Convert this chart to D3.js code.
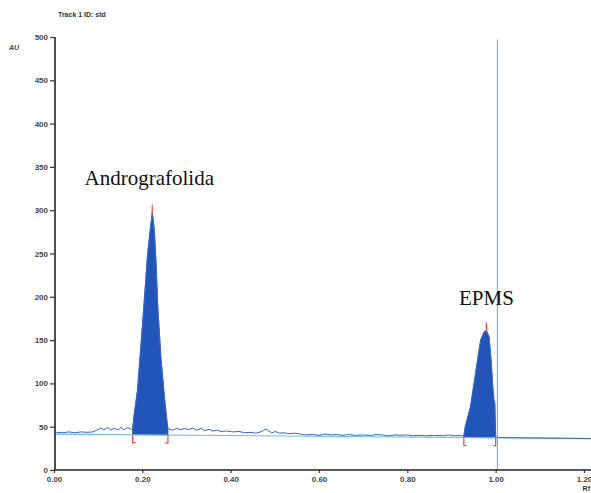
<!DOCTYPE html>
<html>
<head>
<meta charset="utf-8">
<script src="https://cdn.jsdelivr.net/npm/d3@7"></script>
<style>
  html, body { margin: 0; padding: 0; background: #fff; }
  svg { display: block; }
</style>
</head>
<body>
<svg id="chart" width="591" height="493"></svg>
<script>
// ---- Data ----
const title = "Track 1  ID: std";
const yUnit = "AU";
const xUnit = "Rf";
const yTicks = [0, 50, 100, 150, 200, 250, 300, 350, 400, 450, 500];
const xTicks = [0.00, 0.20, 0.40, 0.60, 0.80, 1.00, 1.20];

// Signal trace: Rf positions and absorbance (AU)
const signalRf = [
  0.005, 0.020, 0.034, 0.048, 0.061, 0.075, 0.088, 0.097, 0.106, 0.113, 0.122, 0.129, 0.136, 0.145, 0.152, 0.158, 0.167, 0.174,
  0.178, 0.181, 0.189, 0.197, 0.205, 0.212, 0.218, 0.2225, 0.227, 0.231, 0.235, 0.242, 0.250, 0.255, 0.258,
  0.260, 0.269, 0.278, 0.287, 0.296, 0.305, 0.314, 0.323, 0.333, 0.342, 0.351, 0.360, 0.369, 0.378, 0.391, 0.405, 0.419, 0.432,
  0.446, 0.457, 0.468, 0.475, 0.480, 0.486, 0.493, 0.502, 0.509, 0.518, 0.532, 0.545, 0.559, 0.570, 0.586, 0.600, 0.615, 0.627,
  0.640, 0.654, 0.667, 0.683, 0.699, 0.717, 0.731, 0.744, 0.758, 0.771, 0.785, 0.799, 0.812, 0.826, 0.844, 0.862, 0.880, 0.894,
  0.910, 0.921,
  0.928, 0.931, 0.943, 0.951, 0.959, 0.966, 0.974, 0.979, 0.985, 0.989, 0.993, 0.996, 0.998, 1.000,
  1.010, 1.220
];
const signalAu = [
  43.5, 43, 44, 43, 44, 43.5, 44, 46, 48.5, 46.5, 49, 46, 48.5, 46, 49.5, 46.5, 49, 47,
  47, 62, 92, 145, 200, 250, 278, 297, 278, 240, 188, 130, 84, 60, 47,
  47.5, 46, 48, 46.5, 48, 46.5, 48.5, 46, 48, 45.5, 47, 45, 46, 44.5, 45, 44, 44.5, 43,
  43.5, 42.5, 44, 46, 47.5, 45, 43, 44.5, 42.5, 43, 42, 42.5, 41.5, 40.5, 41, 40, 41.5, 40.5,
  41, 40, 41, 40, 40.5, 40, 41, 40.5, 39.5, 40.5, 40, 40.5, 39.5, 40, 39.5, 40, 39.5, 40.5,
  39.5, 40,
  39, 50, 73, 100, 127, 150, 159.6, 161, 154, 131, 100, 81, 77, 38,
  37.5, 36.3
];

// Baseline (linear, Rf -> AU)
const baselineRf = [0.0, 1.22];
const baselineAu = [41.5, 36.3];

// Integrated peaks
const peakNames = ["Andrografolida", "EPMS"];
const peakStart = [0.178, 0.928];
const peakEnd = [0.258, 1.000];
const peakApexRf = [0.2225, 0.979];
const peakApexAu = [297, 161];

// Solvent front marker
const frontRf = 1.004;
const frontTopAu = 497;

// ---- Chart ----
const svg = d3.select("#chart");
const x = d3.scaleLinear().domain([0, 1.2]).range([54, 584]);
const y = d3.scaleLinear().domain([0, 500]).range([470, 37]);
const baseScale = d3.scaleLinear().domain(baselineRf).range(baselineAu);

const pts = signalRf.map((r, i) => ({ r, a: signalAu[i] }));

// peak fills
peakNames.forEach((name, k) => {
  const seg = pts.filter(p => p.r >= peakStart[k] - 1e-9 && p.r <= peakEnd[k] + 1e-9);
  const area = d3.area()
    .x(p => x(p.r))
    .y0(p => y(baseScale(p.r)))
    .y1(p => y(p.a));
  svg.append("path").datum(seg)
    .attr("d", area)
    .attr("fill", "#2255b8")
    .attr("stroke", "#2255b8")
    .attr("stroke-width", 0.8)
    .attr("stroke-linejoin", "miter");
});

// baseline
svg.append("line")
  .attr("x1", x(0)).attr("x2", 591)
  .attr("y1", y(baseScale(0))).attr("y2", y(baseScale(x.invert(591))))
  .attr("stroke", "#6cc0dc").attr("stroke-width", 1.2);

// signal trace
const line = d3.line().x(p => x(p.r)).y(p => y(p.a));
svg.append("path").datum(pts)
  .attr("d", line)
  .attr("fill", "none")
  .attr("stroke", "#3a66c8")
  .attr("stroke-width", 1);

// solvent front
svg.append("line")
  .attr("x1", x(frontRf)).attr("x2", x(frontRf))
  .attr("y1", y(frontTopAu)).attr("y2", y(0))
  .attr("stroke", "#62bcdc").attr("stroke-width", 1.2);

// red markers: apex ticks and integration brackets
peakNames.forEach((name, k) => {
  svg.append("line")
    .attr("x1", x(peakApexRf[k])).attr("x2", x(peakApexRf[k]))
    .attr("y1", y(peakApexAu[k]) + 2).attr("y2", y(peakApexAu[k]) - 8)
    .attr("stroke", "#e04848").attr("stroke-width", 1.2);
  [[peakStart[k], 1], [peakEnd[k], -1]].forEach(([r, dir]) => {
    const bx = x(r), by = y(baseScale(r));
    svg.append("path")
      .attr("d", `M${bx},${by} L${bx},${by + 8} L${bx + dir * 3},${by + 8}`)
      .attr("fill", "none")
      .attr("stroke", "#e04848").attr("stroke-width", 1.2);
  });
});

// peak labels
const labelDy = [20, 18];
peakNames.forEach((name, k) => {
  svg.append("text")
    .attr("x", x(peakApexRf[k]) - 3 + (k === 1 ? 3 : 0))
    .attr("y", y(peakApexAu[k]) - 8 - labelDy[k])
    .attr("text-anchor", "middle")
    .attr("font-family", "'Liberation Serif', 'Times New Roman', serif")
    .attr("font-size", 21)
    .attr("fill", "#111")
    .text(name);
});

// axes
const fontTick = "'Liberation Sans', Arial, sans-serif";
const yAxis = svg.append("g").attr("transform", `translate(${x(0) + 1},0)`)
  .call(d3.axisLeft(y).tickValues(yTicks).tickSize(5).tickFormat(d3.format("d")));
yAxis.select(".domain").attr("stroke", "#222").attr("stroke-width", 1.6)
  .attr("d", `M0,${y(500)}H0V${y(0)}`);
yAxis.selectAll(".tick line").attr("stroke", "#333").attr("stroke-width", 1.2);
yAxis.selectAll(".tick text")
  .attr("font-family", fontTick).attr("font-size", 8).attr("font-weight", "bold")
  .attr("fill", "#444").attr("x", -7);

const xAxis = svg.append("g").attr("transform", `translate(0,${y(0)})`)
  .call(d3.axisBottom(x).tickValues(xTicks).tickSize(3).tickFormat(d3.format(".2f")));
xAxis.select(".domain").attr("stroke", "#222").attr("stroke-width", 1.6)
  .attr("d", `M${x(0)},0H591`);
xAxis.selectAll(".tick line").attr("stroke", "#333").attr("stroke-width", 1.2);
xAxis.selectAll(".tick text")
  .attr("font-family", fontTick).attr("font-size", 8).attr("font-weight", "bold")
  .attr("fill", "#444").attr("y", 6);

// header texts
svg.append("text").attr("x", 58).attr("y", 17)
  .attr("font-family", fontTick).attr("font-size", 7).attr("font-weight", "bold")
  .attr("fill", "#333").text(title);
svg.append("text").attr("x", 9).attr("y", 50)
  .attr("font-family", fontTick).attr("font-size", 7).attr("font-style", "italic")
  .attr("font-weight", "bold").attr("fill", "#445").text(yUnit);
svg.append("text").attr("x", 590).attr("y", 491)
  .attr("text-anchor", "end")
  .attr("font-family", fontTick).attr("font-size", 7).attr("font-weight", "bold")
  .attr("fill", "#333").text(xUnit);
</script>
</body>
</html>
